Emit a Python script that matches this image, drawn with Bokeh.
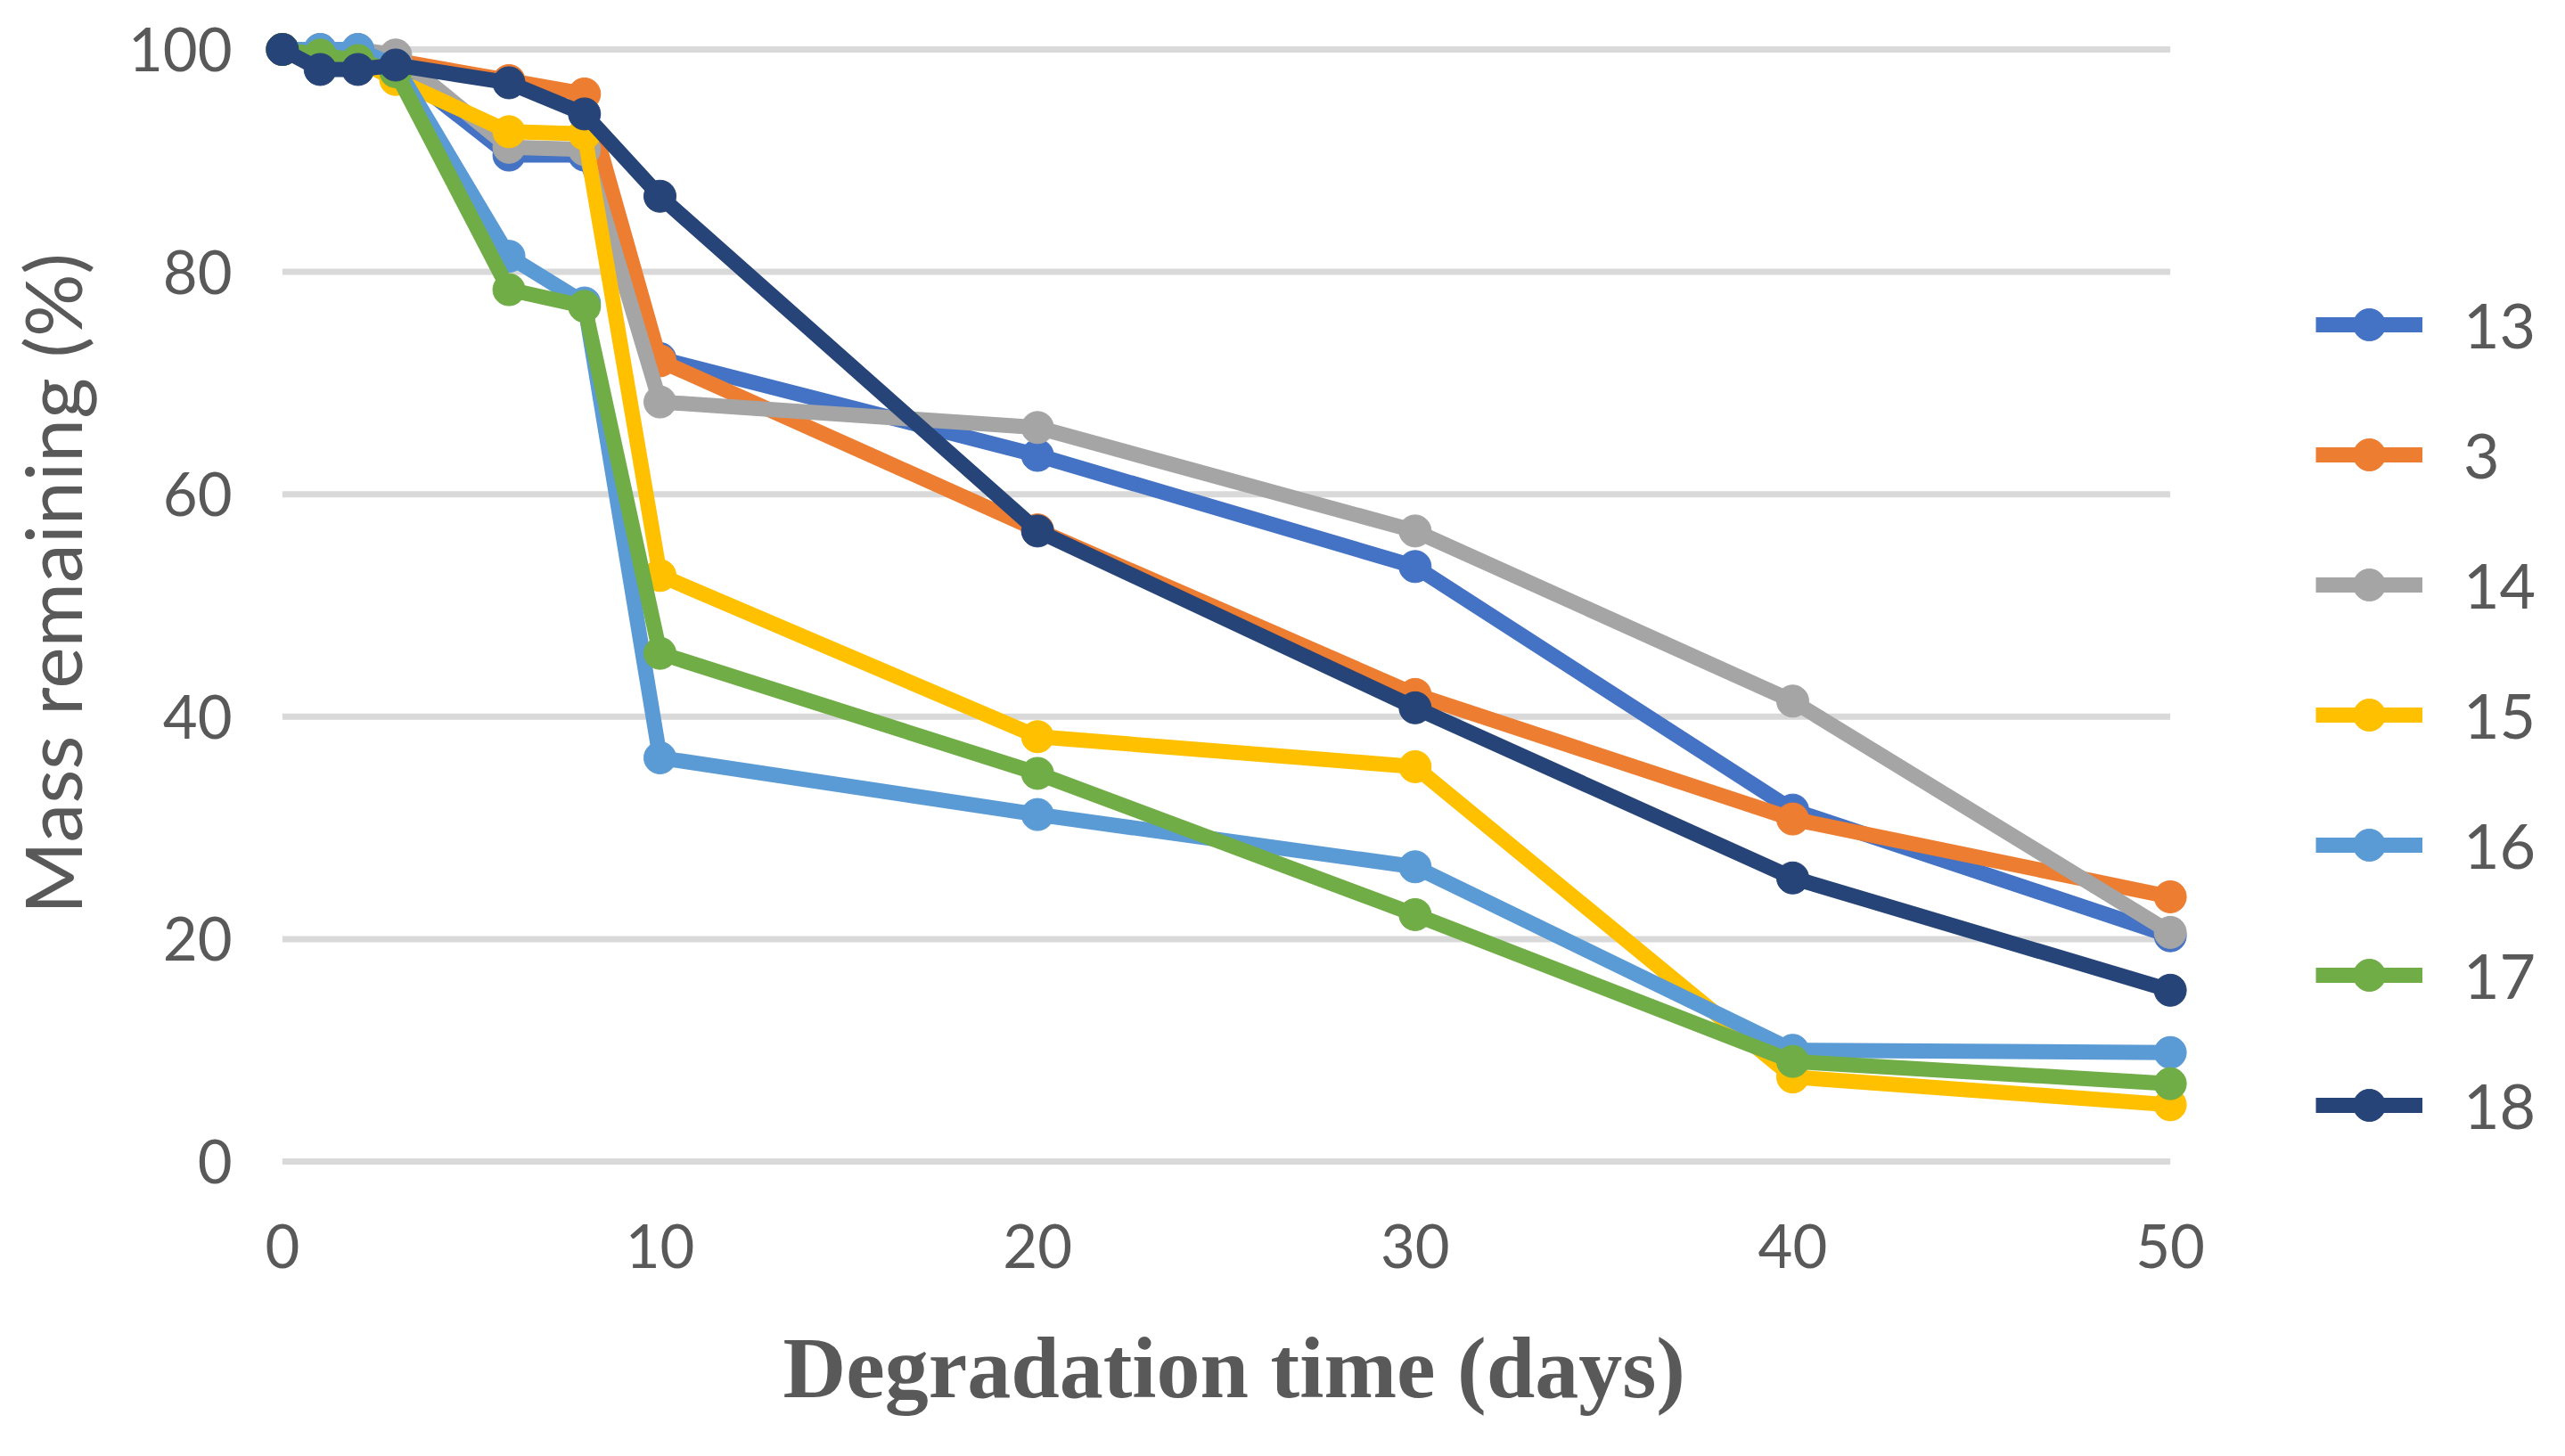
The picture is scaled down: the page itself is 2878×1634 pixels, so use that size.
from bokeh.plotting import figure
from bokeh.models import Range1d, FixedTicker, Legend, LegendItem
from bokeh.embed import file_html
from bokeh.resources import INLINE

# ---- data ----
days = [0, 1, 2, 3, 6, 8, 10, 20, 30, 40, 50]
s13 = [100, 99.5, 99.0, 98.5, 90.5, 90.5, 72.2, 63.5, 53.5, 31.6, 20.3]
s3 = [100, 99.5, 99.2, 99.0, 97.2, 96.0, 72.0, 56.8, 42.0, 30.8, 23.8]
s14 = [100, 100, 100, 99.5, 91.2, 91.0, 68.3, 66.0, 56.7, 41.4, 20.6]
s15 = [100, 99.5, 99.0, 97.3, 92.6, 92.4, 52.7, 38.2, 35.5, 7.6, 5.1]
s16 = [100, 100, 100, 98.5, 81.4, 77.2, 36.3, 31.2, 26.5, 10.0, 9.8]
s17 = [100, 99.5, 99.0, 98.0, 78.4, 76.9, 45.7, 34.9, 22.2, 9.0, 7.0]
s18 = [100, 98.2, 98.2, 98.6, 97.0, 94.2, 86.8, 56.7, 40.8, 25.5, 15.4]

series_names = ["13", "3", "14", "15", "16", "17", "18"]
series_values = [s13, s3, s14, s15, s16, s17, s18]
series_colors = ["#4472C4", "#ED7D31", "#A5A5A5", "#FFC000", "#5B9BD5", "#70AD47", "#264478"]

x_ticks = [0, 10, 20, 30, 40, 50]
y_ticks = [0, 20, 40, 60, 80, 100]

x_title = "Degradation time (days)"
y_title = "Mass remaining (%)"

TXT = "#595959"

# ---- layout (pixels) ----
W, H = 2862, 1618
LEFT, TOP = 274, 0
FRAME_W, FRAME_H = W - LEFT, 1309
PX_PER_DAY = 42.365
PX_PER_PCT = 12.48
X0 = -1.0
X1 = X0 + FRAME_W / PX_PER_DAY
Y1 = 100 + 55 / PX_PER_PCT
Y0 = Y1 - FRAME_H / PX_PER_PCT

p = figure(width=W, height=H, output_backend="svg", toolbar_location=None,
           x_range=Range1d(X0, X1), y_range=Range1d(Y0, Y1),
           min_border_left=LEFT, min_border_right=0,
           min_border_top=TOP, min_border_bottom=H - TOP - FRAME_H)
p.outline_line_color = None
p.xgrid.visible = False
p.ygrid.visible = False
p.background_fill_color = "white"
p.border_fill_color = "white"

# gridlines spanning the data extent
p.segment(x0=[x_ticks[0]] * len(y_ticks), x1=[x_ticks[-1]] * len(y_ticks),
          y0=y_ticks, y1=y_ticks, line_color="#D9D9D9", line_width=7)

for ax in (p.xaxis[0], p.yaxis[0]):
    ax.axis_line_color = None
    ax.major_tick_line_color = None
    ax.minor_tick_line_color = None
    ax.major_tick_out = 0
    ax.major_tick_in = 0
    ax.major_label_text_font = "Lato"
    ax.major_label_text_font_size = "67px"
    ax.major_label_text_color = TXT

p.xaxis.ticker = FixedTicker(ticks=x_ticks)
p.yaxis.ticker = FixedTicker(ticks=y_ticks)
p.yaxis.major_label_standoff = 14
p.xaxis.major_label_standoff = 64

p.yaxis.axis_label = y_title
p.yaxis.axis_label_text_font = "Lato"
p.yaxis.axis_label_text_font_style = "normal"
p.yaxis.axis_label_text_font_size = "88px"
p.yaxis.axis_label_text_color = TXT
p.yaxis.axis_label_standoff = 30

# x-axis title: the frame extends under the legend, so pad the label on the
# right with no-break spaces to centre it under the 0-50 data span
p.xaxis.axis_label = x_title + "\u00a0" * 15
p.xaxis.axis_label_text_font = "Liberation Serif"
p.xaxis.axis_label_text_font_style = "bold"
p.xaxis.axis_label_text_font_size = "98px"
p.xaxis.axis_label_text_color = TXT
p.xaxis.axis_label_standoff = 55

items = []
for name, vals, col in zip(series_names, series_values, series_colors):
    r_line = p.line(days, vals, line_color=col, line_width=17, line_join="round")
    r_pts = p.scatter(days, vals, marker="circle", size=36, fill_color=col, line_color=col)
    items.append(LegendItem(label=name, renderers=[r_line, r_pts]))

legend = Legend(items=items, location=(2324, 24), orientation="vertical",
                glyph_width=120, glyph_height=90, label_height=90, spacing=56,
                label_standoff=46, padding=0, margin=0,
                border_line_color=None, background_fill_alpha=0,
                label_text_font="Lato", label_text_font_size="70px",
                label_text_color=TXT, label_text_baseline="middle")
p.add_layout(legend, "center")

open("out.html", "w").write(file_html(p, INLINE))
